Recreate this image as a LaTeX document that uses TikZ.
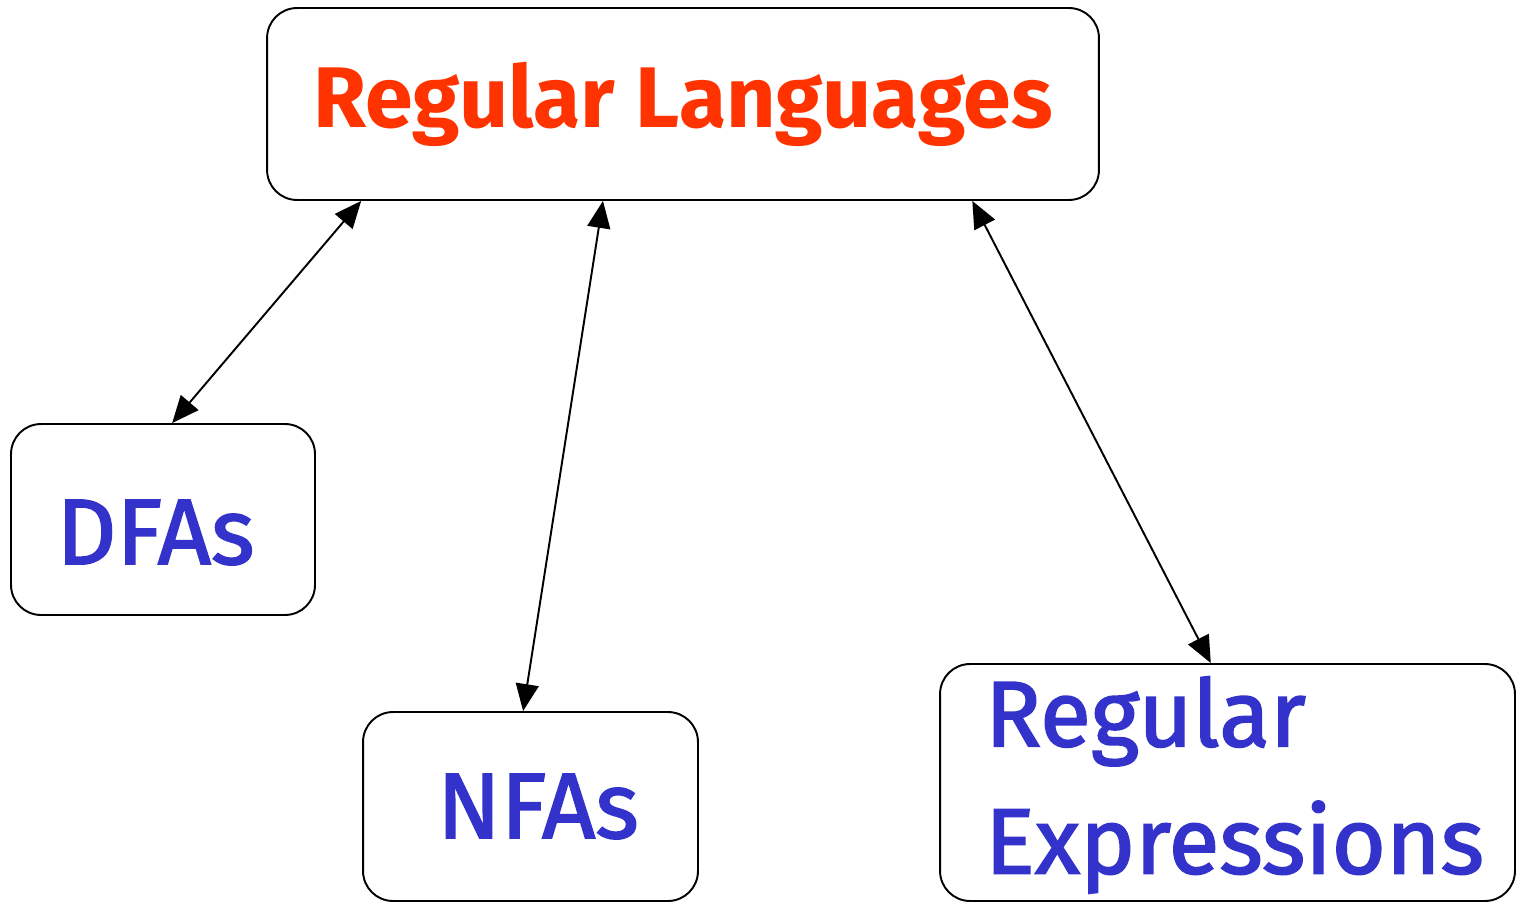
\documentclass[tikz,border=0pt]{standalone}
\usepackage{fontspec}
\setmainfont{Fira Sans}
\newfontfamily\penfont[FakeBold=1.8]{Fira Sans}
\usetikzlibrary{arrows.meta,positioning,calc}
\definecolor{langred}{HTML}{FF3300}
\definecolor{modelblue}{HTML}{3333CC}

\begin{document}
\begin{tikzpicture}[x=0.02cm,y=-0.02cm,
  box/.style={draw,rounded corners=0.6cm,line width=1.1pt,fill=white,inner sep=0pt},
  big/.style={font=\fontsize{49}{59}\selectfont\bfseries},
  mid/.style={font=\fontsize{53}{71}\selectfont\penfont},
  ar/.style={{Triangle[length=0.54cm,width=0.46cm]}-{Triangle[length=0.54cm,width=0.46cm]},line width=1.1pt}]
  \useasboundingbox (0,0) rectangle (1523,902);

  % the class and its three descriptions
  \node[box,big,text=langred,minimum width=16.64cm,minimum height=3.84cm] (reg) at (683,104) {Regular Languages};
  \node[box,mid,text=modelblue,minimum width=6.08cm,minimum height=3.82cm] (dfa) at (163,519.5) {\raisebox{-0.25cm}[\height][0pt]{DFAs}\hspace*{0.3cm}};
  \node[box,mid,text=modelblue,minimum width=6.7cm,minimum height=3.78cm] (nfa) at (530.5,806.5) {\hspace*{0.3cm}NFAs};
  \node[box,mid,text=modelblue,minimum width=11.5cm,minimum height=4.74cm,
        align=left,text width=9.7cm,inner xsep=0.9cm] (rex) at (1227.5,782.5)
        {Regular\\[0.05cm]\raisebox{0pt}[\height][0.3cm]{Expressions}};

  % equivalences
  \draw[ar] ($(reg.south west)!0.114!(reg.south east)$) -- ($(dfa.north west)!0.53!(dfa.north east)$);
  \draw[ar] ($(reg.south west)!0.404!(reg.south east)$) -- ($(nfa.north west)!0.478!(nfa.north east)$);
  \draw[ar] ($(reg.south west)!0.847!(reg.south east)$) -- ($(rex.north west)!0.471!(rex.north east)$);
\end{tikzpicture}
\end{document}
